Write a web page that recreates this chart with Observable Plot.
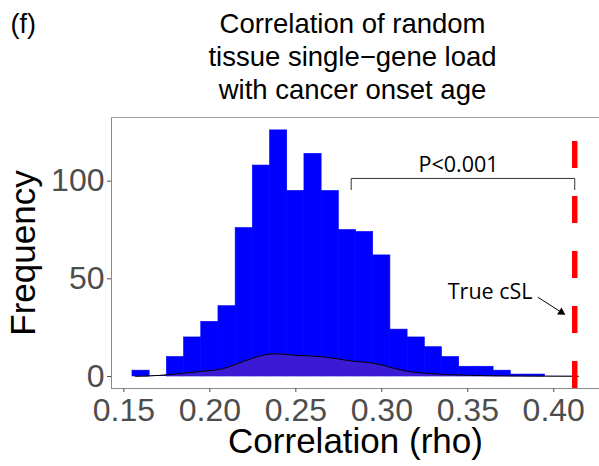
<!DOCTYPE html>
<html>
<head>
<meta charset="utf-8">
<script src="https://cdn.jsdelivr.net/npm/d3@7"></script>
<script src="https://cdn.jsdelivr.net/npm/@observablehq/plot@0.6"></script>
<style>
  html, body { margin: 0; padding: 0; background: #ffffff; }
  #chart svg { display: block; }
</style>
</head>
<body>
<div id="chart"></div>
<script>
// ---- Data ----
const binCenters = [0.16, 0.17, 0.18, 0.19, 0.20, 0.21, 0.22, 0.23, 0.24, 0.25, 0.26, 0.27,
                    0.28, 0.29, 0.30, 0.31, 0.32, 0.33, 0.34, 0.35, 0.36, 0.37, 0.38, 0.39];
const binCounts  = [3, 0, 10, 20, 28, 36, 76, 108, 126, 95, 114, 95,
                    75, 74, 62, 24, 20, 15, 10, 5, 5, 3, 1, 1];
const binWidth = 0.01;

const densX = [0.1568, 0.1650, 0.1733, 0.1869, 0.1985, 0.2062, 0.2159, 0.2256, 0.2334, 0.2392, 0.2488,
               0.2644, 0.2837, 0.2953, 0.2992, 0.3070, 0.3148, 0.3283, 0.3477, 0.3671, 0.3952, 0.4144];
const densY = [0.1, 0.3, 0.7, 1.9, 2.9, 3.7, 6.5, 9.6, 11.3, 11.6, 10.9,
               10.2, 7.8, 6.8, 6.1, 4.2, 2.7, 1.5, 0.7, 0.35, 0.15, 0.1];

const trueCSL = 0.4122;
const xTicks = [0.15, 0.20, 0.25, 0.30, 0.35, 0.40];
const yTicks = [0, 50, 100];

const titleLines = ["Correlation of random", "tissue single\u2212gene load", "with cancer onset age"];
const panelTag = "(f)";
const xLabel = "Correlation (rho)";
const yLabel = "Frequency";
const pLabel = "P<0.001";
const cslLabel = "True cSL";

// annotation anchors (data units)
const bracketLeft = 0.2822, bracketTop = 101.4, bracketFoot = 95.7;
const pText = {x: 0.3446, y: 104.5};
const cslText = {x: 0.3630, y: 39.8};
const arrowStart = {x: 0.3907, y: 40.6};
const arrowHead = {x: 0.4044, y: 32.9};

const xDomain = [0.1428, 0.4266];
const yDomain = [-6.14, 132.6];

// ---- Build tables ----
const bins = binCenters.map((c, i) => ({x1: c - binWidth / 2, x2: c + binWidth / 2, n: binCounts[i]}));
const dens = densX.map((x, i) => ({x, y: densY[i]}));
const bracket = [
  {x: bracketLeft, y: bracketFoot}, {x: bracketLeft, y: bracketTop},
  {x: trueCSL, y: bracketTop}, {x: trueCSL, y: bracketFoot}
];

const chart = Plot.plot({
  width: 599,
  height: 466,
  marginTop: 117,
  marginBottom: 78,
  marginLeft: 111,
  marginRight: 0,
  style: {fontFamily: "'Liberation Sans', Arial, sans-serif", background: "#ffffff", color: "#000"},
  x: {domain: xDomain},
  y: {domain: yDomain},
  marks: [
    Plot.rectY(bins, {x1: "x1", x2: "x2", y: "n", fill: "#0000ff", stroke: "#0000ff", strokeWidth: 0.6}),
    Plot.areaY(dens, {x: "x", y: "y", fill: "#3b1ad6", curve: "monotone-x"}),
    Plot.lineY(dens, {x: "x", y: "y", stroke: "#000", strokeWidth: 1, curve: "monotone-x"}),
    // panel lines
    Plot.ruleX([xDomain[0]], {stroke: "#8a8a8a", strokeWidth: 1}),
    Plot.ruleY([yDomain[0]], {stroke: "#8a8a8a", strokeWidth: 1}),
    Plot.ruleY([yDomain[1]], {stroke: "#a6a6a6", strokeWidth: 1}),
    // axes
    Plot.axisX({ticks: xTicks, tickFormat: d3.format(".2f"), tickSize: 4, tickPadding: 6,
                fontSize: 32, color: "#4d4d4d", label: null}),
    Plot.axisY({ticks: yTicks, tickFormat: d3.format("d"), tickSize: 4, tickPadding: 3,
                fontSize: 32, color: "#4d4d4d", label: null}),
    // true value line
    Plot.ruleX([trueCSL], {y1: yDomain[0], y2: yDomain[1], stroke: "#ff0000", strokeWidth: 5.5,
                           strokeDasharray: "27,28"}),
    // bracket + p value
    Plot.line(bracket, {x: "x", y: "y", stroke: "#333", strokeWidth: 1}),
    Plot.text([pLabel], {x: pText.x, y: pText.y, text: d => d, fontFamily: "'Open Sans', sans-serif",
                         fontSize: 21.5, lineAnchor: "bottom", textAnchor: "middle", fill: "#000"}),
    // arrow + label
    Plot.text([cslLabel], {x: cslText.x, y: cslText.y, text: d => d, fontFamily: "'Open Sans', sans-serif",
                           fontSize: 21.5, lineAnchor: "bottom", textAnchor: "middle", fill: "#000"}),
    Plot.link([0], {x1: arrowStart.x, y1: arrowStart.y, x2: arrowHead.x, y2: arrowHead.y,
                    stroke: "#000", strokeWidth: 1}),
    Plot.dot([0], {x: arrowHead.x, y: arrowHead.y, symbol: "triangle2", r: 4, fill: "#000",
                   rotate: 122.5}),
    // titles
    Plot.text([titleLines.join("\n")], {frameAnchor: "top", text: d => d, dx: -3, dy: -19,
                                        lineAnchor: "bottom", lineHeight: 1.2, fontSize: 27.5,
                                        textAnchor: "middle", fill: "#000"}),
    Plot.text([panelTag], {frameAnchor: "top-left", text: d => d, dx: -101, dy: -85,
                           lineAnchor: "bottom", textAnchor: "start", fontSize: 27, fill: "#000"}),
    Plot.text([xLabel], {frameAnchor: "bottom", text: d => d, dy: 64, lineAnchor: "bottom",
                         fontSize: 35, textAnchor: "middle", fill: "#000"}),
    Plot.text([yLabel], {frameAnchor: "left", text: d => d, dx: -77, rotate: -90,
                         lineAnchor: "bottom", fontSize: 35, textAnchor: "middle", fill: "#000"})
  ]
});
document.getElementById("chart").appendChild(chart);
</script>
</body>
</html>
